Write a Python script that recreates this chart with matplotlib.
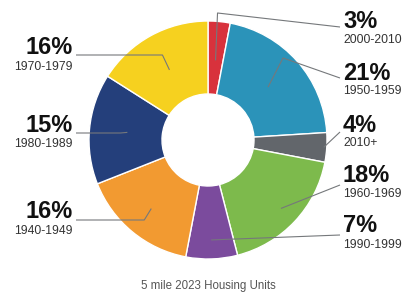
import numpy as np
import matplotlib.pyplot as plt

# slices in clockwise order from 12 o'clock
pcts = [3, 21, 4, 18, 7, 16, 15, 16]
years = ['2000-2010', '1950-1959', '2010+', '1960-1969',
         '1990-1999', '1940-1949', '1980-1989', '1970-1979']
colors = ['#d8323c', '#2b93b9', '#62666b', '#7dba4c',
          '#7b4b9d', '#f29a31', '#243f7b', '#f6d11f']
title = '5 mile 2023 Housing Units'

H = 297
cx, cy, R, r_in = 208, 140, 119, 46

fig = plt.figure(figsize=(4.04, 2.97), dpi=100)
ax = fig.add_axes([0, 0, 1, 1])
ax.pie(pcts, colors=colors, startangle=90, counterclock=False,
       center=(cx, H - cy), radius=R,
       wedgeprops=dict(width=R - r_in, edgecolor='white', linewidth=1))
ax.set_xlim(0, 404)
ax.set_ylim(0, H)
ax.axis('off')

# label layout: (side, text y of pct, y of year, leader end y, anchor radius, bend)
layout = {
    '2000-2010': ('R', 21, 40, 27, 80, 'up'),
    '1950-1959': ('R', 73, 91, 78, 80, 'kink'),
    '2010+': ('R', 125, 143, 132, 116, None),
    '1960-1969': ('R', 176, 194, 185, 100, None),
    '1990-1999': ('R', 226, 245, 235, 100, None),
    '1940-1949': ('L', 211, 231, 220, 89, 'flat'),
    '1980-1989': ('L', 125, 144, 133, 81, 'flat'),
    '1970-1979': ('L', 47, 67, 55, 80, 'flat'),
}

cum = np.cumsum([0] + pcts)
lc = '#75787b'
for i, (p, yr) in enumerate(zip(pcts, years)):
    side, ty, yy, ly, ar, bend = layout[yr]
    mid = np.deg2rad((cum[i] + p / 2) / 100 * 360)
    px = cx + ar * np.sin(mid)
    py = cy - ar * np.cos(mid)
    if side == 'R':
        tx, ha, lx = 343, 'left', 340
    else:
        tx, ha, lx = 73, 'right', 76
    xs, ys = [px], [py]
    if bend == 'up':
        xs += [px + 2]
        ys += [13]
    elif bend == 'kink':
        xs += [px + 15]
        ys += [58]
    elif bend == 'flat':
        xs += [px - 7 if px > lx else px]
        ys += [ly]
    xs += [lx]
    ys += [ly]
    ax.plot(xs, [H - v for v in ys], color=lc, lw=0.8, solid_capstyle='butt')
    ax.text(tx, H - ty, f'{p}%', ha=ha, va='center', fontsize=17,
            fontweight='bold', family='Liberation Sans', color='#111111')
    ax.text(tx, H - yy, yr, ha=ha, va='center', fontsize=8.7,
            family='Liberation Sans', color='#333333')

ax.text(cx, H - 286, title, ha='center', va='center', fontsize=8.3,
        family='Liberation Sans', color='#555555')

fig.savefig('out.png', dpi=100, facecolor='white')
